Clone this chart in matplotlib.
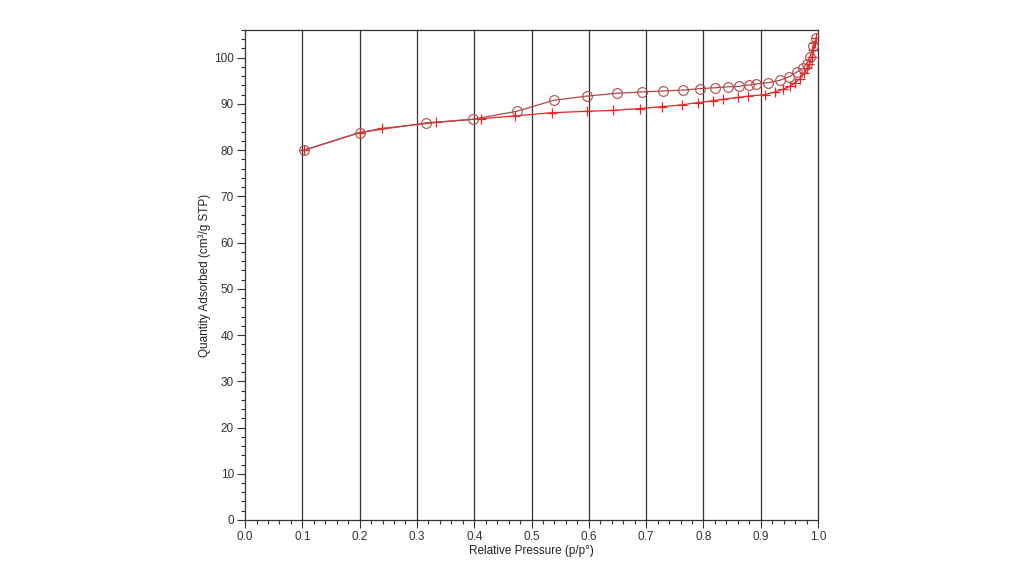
import matplotlib
matplotlib.use("Agg")
import matplotlib.pyplot as plt
from matplotlib.ticker import MultipleLocator

plt.rcParams['font.family'] = ['Liberation Sans', 'DejaVu Sans']

# Adsorption branch (red, "+" markers)
ads_p = [0.103, 0.200, 0.239, 0.334, 0.411, 0.471, 0.535, 0.596, 0.642, 0.689,
         0.727, 0.762, 0.791, 0.817, 0.834, 0.861, 0.878, 0.907, 0.925, 0.939,
         0.951, 0.960, 0.969, 0.976, 0.980, 0.985, 0.989, 0.992, 0.995, 0.997]
ads_q = [80.0, 83.8, 84.7, 86.0, 86.8, 87.4, 88.1, 88.4, 88.6, 89.0,
         89.4, 89.8, 90.3, 90.7, 91.0, 91.4, 91.7, 92.0, 92.6, 93.2,
         93.8, 94.6, 95.5, 96.6, 97.7, 98.7, 100.2, 101.6, 103.1, 104.3]

# Desorption branch (brown-red, open circles)
des_p = [0.997, 0.991, 0.986, 0.980, 0.974, 0.963, 0.950, 0.933, 0.913, 0.892,
         0.880, 0.862, 0.842, 0.820, 0.794, 0.765, 0.730, 0.692, 0.649, 0.597,
         0.539, 0.474, 0.398, 0.316, 0.200, 0.103]
des_q = [104.3, 102.5, 100.2, 98.7, 97.7, 96.9, 95.9, 95.1, 94.6, 94.3,
         94.1, 93.8, 93.7, 93.5, 93.3, 93.0, 92.8, 92.6, 92.3, 91.7,
         90.8, 88.4, 86.7, 85.9, 83.8, 80.0]

x_ticks = [0.0, 0.1, 0.2, 0.3, 0.4, 0.5, 0.6, 0.7, 0.8, 0.9, 1.0]
y_ticks = [0, 10, 20, 30, 40, 50, 60, 70, 80, 90, 100]

fig = plt.figure(figsize=(10.24, 5.83), dpi=100)
ax = fig.add_axes([0.2393, 0.1081, 0.5596, 0.8405])

for xv in x_ticks[1:]:
    ax.axvline(xv, color='#333333', lw=0.9, zorder=1, clip_on=False)

ax.plot(ads_p, ads_q, color='#ee2222', lw=0.9, marker='+', markersize=7.5,
        markeredgewidth=0.9, zorder=3)
ax.plot(des_p, des_q, color='#b04848', lw=0.9, marker='o', markersize=7,
        markerfacecolor='none', markeredgecolor='#b04848', markeredgewidth=0.8,
        zorder=4)

ax.set_xlim(0, 1.0)
ax.set_ylim(0, 106)
ax.set_xticks(x_ticks)
ax.set_xticklabels([f"{v:.1f}" for v in x_ticks])
ax.set_yticks(y_ticks)
ax.xaxis.set_minor_locator(MultipleLocator(0.02))
ax.yaxis.set_minor_locator(MultipleLocator(2))

ax.spines['right'].set_visible(False)
for s in ['left', 'bottom', 'top']:
    ax.spines[s].set_color('#333333')
    ax.spines[s].set_linewidth(0.9)

ax.tick_params(axis='both', which='major', direction='out', length=6, width=0.8,
               colors='#333333', labelsize=8.5, labelcolor='#333333', pad=2)
ax.tick_params(axis='both', which='minor', direction='out', length=3, width=0.8,
               colors='#333333')

ax.set_xlabel('Relative Pressure (p/p°)', fontsize=8.5, color='#222222', labelpad=1.5)
ax.set_ylabel('Quantity Adsorbed (cm³/g STP)', fontsize=8.5, color='#222222', labelpad=2)

fig.savefig('out.png', dpi=100)
